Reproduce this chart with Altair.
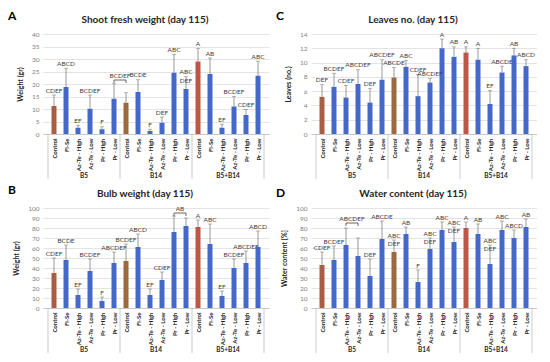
import json
import altair as alt
import pandas as pd

FONT = "Lato"
W, H = 226, 100

treatments = ["Control", "Fl-Se", "Az-Te - High", "Az-Te - Low", "Pr - High", "Pr - Low"]
groups = ["B5", "B14", "B5+B14"]
group_centers = [2.5, 8.5, 14.5]
group_bounds = [-0.5, 5.5, 11.5, 17.5]

control_colors = ["#A85E44", "#9A6A3E", "#BC5647"]
blue = "#4468C8"

# Panel A: Shoot fresh weight
a_vals = [11.2, 18.8, 2.5, 10.1, 1.9, 14.1, 12.5, 16.8, 1.2, 4.5, 24.5, 18.0, 29.0, 24.0, 2.5, 11.0, 7.6, 23.3]
a_errs = [15.6, 26.3, 3.5, 15.6, 2.9, 20.1, 16.5, 21.7, 1.9, 6.8, 31.8, 22.9, 34.2, 30.4, 3.9, 15.0, 9.8, 29.1]
a_labs = ["CDEF", "ABCD", "EF", "BCDEF", "F", "", "", "BCDE", "F", "DEF", "ABC", "ABC\nDEF",
          "A", "AB", "EF", "BCDEF", "CDEF", "ABC"]
a_bracket = [5, 6, 21.6, 20.4, "BCDEF"]

# Panel B: Bulb weight
b_vals = [35, 48, 13, 37, 7, 45, 47, 61, 13, 28, 76, 82, 81, 64, 12, 40, 45, 61]
b_errs = [50, 63, 19, 49, 11, 56, 64, 74, 19, 36, 92, 90, 88, 84, 17, 49, 57, 77]
b_labs = ["CDEF", "BCDE", "EF", "BCDEF", "F", "ABCDEF", "BCDEF", "ABCD", "EF", "CDEF", "", "",
          "A", "ABC", "EF", "BCDEF", "ABCDEF", "ABCD"]
b_bracket = [10, 11, 95, 92, "AB"]

# Panel C: Leaves no.
c_vals = [5.2, 6.6, 5.1, 7.0, 4.4, 7.6, 7.9, 9.4, 5.3, 7.2, 12.0, 10.8, 11.4, 10.4, 4.2, 8.6, 11.0, 9.5]
c_errs = [6.9, 8.5, 6.8, 9.0, 6.4, 10.4, 9.3, 10.3, 8.3, 7.8, 13.3, 12.2, 12.2, 12.0, 6.1, 9.5, 12.0, 10.4]
c_labs = ["DEF", "BCDEF", "CDEF", "ABCDEF", "DEF", "ABCDEF", "ABCDE", "ABC", "CDEF", "ABCDEF",
          "A", "AB", "A", "A", "EF", "ABCDE", "AB", "ABCD"]

# Panel D: Water content
d_vals = [43, 48, 63, 52, 32, 69, 56, 74, 26, 59, 78, 66, 80, 74, 44, 78, 70, 81]
d_errs = [56, 62, 80, 70, 49, 87, 68, 81, 38, 70, 86, 81, 86, 84, 63, 87, 78, 89]
d_labs = ["CDEF", "BCDEF", "", "", "DEF", "ABCDE", "ABC\nDEF", "AB", "F", "ABC\nDEF", "ABC",
          "ABC\nDEF", "A", "AB", "ABC\nDEF", "ABC", "ABCD", "AB"]
d_bracket = [2, 3, 85, 82, "ABCDEF"]

label_expr = json.dumps(treatments) + "[datum.value % 6]"


def bar_colors():
    cols = []
    for g in range(3):
        for t in range(6):
            cols.append(control_colors[g] if t == 0 else blue)
    return cols


def panel(letter, title, ytitle, vals, errs, labs, ymax, ystep, bracket, letter_y):
    df = pd.DataFrame({"idx": list(range(18)), "val": vals, "err": errs,
                       "lab": labs, "col": bar_colors()})
    xs = alt.Scale(domain=[-0.5, 17.5], nice=False, zero=False)
    xaxis = alt.Axis(values=list(range(18)), labelExpr=label_expr, labelAngle=-90,
                     labelAlign="right", labelBaseline="middle", labelFontSize=6,
                     labelFont=FONT, labelFontWeight="bold", labelColor="#262626",
                     labelPadding=4, labelOverlap=False, ticks=False, grid=False,
                     domainColor="#BFBFBF", domainWidth=0.8, title=None)
    ys = alt.Scale(domain=[0, ymax], nice=False)
    yaxis = alt.Axis(values=list(range(0, ymax + 1, ystep)), title=ytitle, titleFont=FONT,
                     titleFontSize=7, titleFontWeight="bold", titleColor="#262626",
                     titlePadding=8, labelFont=FONT, labelFontSize=6.5, labelColor="#7F7F7F",
                     labelPadding=4, ticks=False, domain=False, gridColor="#D9D9D9",
                     gridWidth=0.7)

    def X(f):
        return alt.X(f"{f}:Q", scale=xs, axis=xaxis)

    def Y(f):
        return alt.Y(f"{f}:Q", scale=ys, axis=yaxis, stack=None)

    base = alt.Chart(df)
    bars = base.mark_bar(size=5, orient="vertical").encode(
        x=X("idx"), y=Y("val"), color=alt.Color("col:N", scale=None))
    err = base.mark_rule(color="#7F7F7F", strokeWidth=0.8).encode(
        x=X("idx"), y=Y("val"), y2="err:Q")
    cap = base.mark_tick(orient="horizontal", size=4, thickness=0.8, color="#7F7F7F").encode(
        x=X("idx"), y=Y("err"))
    txt = base.mark_text(baseline="bottom", dy=-1.5, fontSize=6.5, font=FONT, color="#404040",
                         lineBreak="\n").encode(x=X("idx"), y=Y("err"), text="lab:N")

    layers = [bars, err, cap, txt]

    if bracket is not None:
        i1, i2, yb, yl, blab = bracket
        bh = pd.DataFrame({"x1": [i1], "x2": [i2], "yb": [yb], "xm": [(i1 + i2) / 2], "lab": [blab]})
        bv = pd.DataFrame({"x": [i1, i2], "yb": [yb, yb], "yl": [yl, yl]})
        layers.append(alt.Chart(bh).mark_rule(color="#404040", strokeWidth=0.8).encode(
            x=X("x1"), x2="x2:Q", y=Y("yb")))
        layers.append(alt.Chart(bv).mark_rule(color="#404040", strokeWidth=0.8).encode(
            x=X("x"), y=Y("yb"), y2="yl:Q"))
        layers.append(alt.Chart(bh).mark_text(baseline="bottom", dy=-1.5, fontSize=6.5, font=FONT,
                                              color="#404040").encode(
            x=X("xm"), y=Y("yb"), text="lab:N"))

    sep = pd.DataFrame({"pos": group_bounds})
    layers.append(alt.Chart(sep).mark_rule(color="#BFBFBF", strokeWidth=0.8).encode(
        x=X("pos"), y=alt.value(H), y2=alt.value(H + 45)))
    gl = pd.DataFrame({"c": group_centers, "g": groups})
    layers.append(alt.Chart(gl).mark_text(fontSize=6.5, font=FONT, fontWeight="bold",
                                          color="#262626", baseline="middle").encode(
        x=X("c"), y=alt.value(H + 42), text="g:N"))

    layers.append(alt.Chart(pd.DataFrame({"t": [letter]})).mark_text(
        align="left", baseline="middle", fontSize=12, font=FONT, fontWeight="bold",
        color="#000000").encode(x=alt.value(-35), y=alt.value(letter_y), text="t:N"))
    layers.append(alt.Chart(pd.DataFrame({"t": [title]})).mark_text(
        align="center", baseline="middle", fontSize=10, font=FONT, fontWeight="bold",
        color="#262626").encode(x=alt.value(102), y=alt.value(-14), text="t:N"))

    return alt.layer(*layers).properties(width=W, height=H)


pA = panel("A", "Shoot fresh weight (day 115)", "Weight (gr)", a_vals, a_errs, a_labs, 40, 5, a_bracket, -18)
pC = panel("C", "Leaves no. (day 115)", "Leaves (no.)", c_vals, c_errs, c_labs, 14, 2, None, -18)
pB = panel("B", "Bulb weight (day 115)", "Weight (gr)", b_vals, b_errs, b_labs, 100, 10, b_bracket, -18)
pD = panel("D", "Water content (day 115)", "Water content [%]", d_vals, d_errs, d_labs, 100, 10, d_bracket, -15)

chart = alt.concat(
    pA, pC, pB, pD, columns=2,
    spacing={"row": 74, "column": 42}, bounds="flush",
).properties(padding={"top": 2, "left": 0, "right": 0, "bottom": 0}).configure_view(stroke=None)

chart.save("out.html", embed_options={"renderer": "svg", "actions": False})
